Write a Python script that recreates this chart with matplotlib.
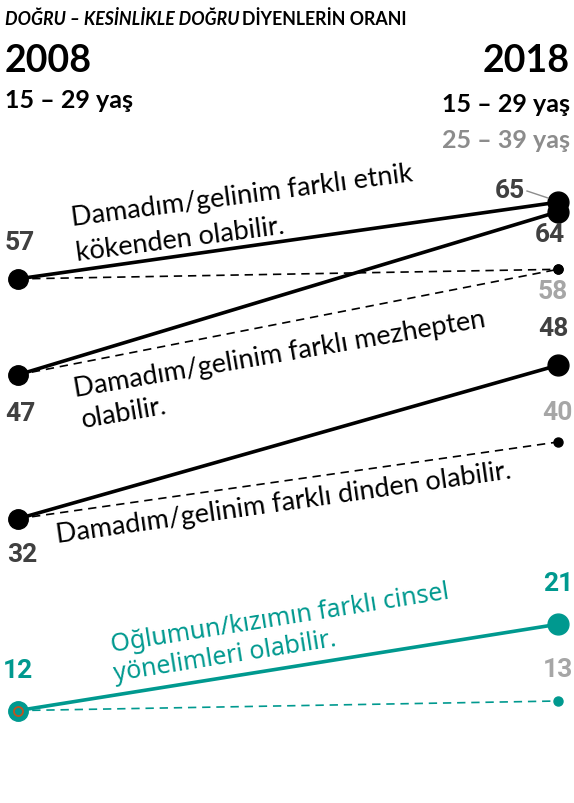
import matplotlib
matplotlib.use('Agg')
import matplotlib.pyplot as plt

# ---- data ----
questions = ['Damadım/gelinim farklı etnik\nkökenden olabilir.',
             'Damadım/gelinim farklı mezhepten\nolabilir.',
             'Damadım/gelinim farklı dinden olabilir.',
             'Oğlumun/kızımın farklı cinsel\nyönelimleri olabilir.']
v2008 = [57, 47, 32, 12]          # 2008, 15-29 yaş
v2018 = [65, 64, 48, 21]          # 2018, 15-29 yaş
v2018_old = [58, 58, 40, 13]      # 2018, 25-39 yaş
years = ['2008', '2018']

W, H = 574, 804
BLACK = '#000000'
TEAL = '#00998f'
DGRAY = '#404040'
LGRAY = '#a6a6a6'

# pixel -> data helpers (axes spans the whole figure)
X0, XS = 18, 540
Y0, YS = 826.7, 9.593


def px2d(px, py):
    return (px - X0) / XS, (Y0 - py) / YS


fig = plt.figure(figsize=(W / 100, H / 100), dpi=100)
ax = fig.add_axes([0, 0, 1, 1])
ax.set_xlim(px2d(0, 0)[0], px2d(W, 0)[0])
ax.set_ylim(px2d(0, H)[1], px2d(0, 0)[1])
ax.axis('off')

colors = [BLACK, BLACK, BLACK, TEAL]
for i in range(4):
    c = colors[i]
    ax.plot([0, 1], [v2008[i], v2018_old[i]], color=c, lw=1.2,
            dashes=(5, 3.5), zorder=2)
    ax.plot([0, 1], [v2008[i], v2018[i]], color=c, lw=2.6, zorder=3)
    ax.plot(0, v2008[i], 'o', color=c, ms=14, zorder=4)
    ax.plot(1, v2018[i], 'o', color=c, ms=15, zorder=4)
    ax.plot(1, v2018_old[i], 'o', color=c, ms=6.5, zorder=4)

# orange ring in teal dot
ax.plot(0, v2008[3], 'o', mfc='none', mec='#c0531f', ms=6.5, mew=1.3, zorder=5)

# value labels: (value, x, dx, dy, color)
labels = [
    (v2008[0], 0, 2, 37, DGRAY),
    (v2008[1], 0, 2, -38, DGRAY),
    (v2008[2], 0, 4, -35, DGRAY),
    (v2008[3], 0, 0, 41, TEAL),
    (v2018[0], 1, -48, 12, DGRAY),
    (v2018[1], 1, -8, -22, DGRAY),
    (v2018_old[0], 1, -5, -22, LGRAY),
    (v2018[2], 1, -5, 37, DGRAY),
    (v2018_old[2], 1, -1, 30, LGRAY),
    (v2018[3], 1, 0, 41, TEAL),
    (v2018_old[3], 1, 0, 32, LGRAY),
]
for val, x, dx, dy, c in labels:
    ax.annotate(str(val), (x, val), xytext=(dx, dy), textcoords='offset pixels',
                ha='center', va='center', fontsize=19, fontweight='bold',
                family='Roboto', color=c, zorder=6)

# little gray leader near 65
ax.plot([px2d(527, 0)[0], px2d(548, 0)[0]], [px2d(0, 192)[1], px2d(0, 199)[1]],
        color='#8c8c8c', lw=1.0, zorder=5)

# rotated question texts: (text, px, py, angle, color, font, size)
qlines = [
    ('Damadım/gelinim farklı etnik', 72, 226, 7.5, BLACK, 'Lato', 19.5),
    ('kökenden olabilir.', 77, 261, 7.5, BLACK, 'Lato', 19.5),
    ('Damadım/gelinim farklı mezhepten', 75, 397, 9.7, BLACK, 'Lato', 19.5),
    ('olabilir.', 83, 428, 9.7, BLACK, 'Lato', 19.5),
    ('Damadım/gelinim farklı dinden olabilir.', 57, 543, 8.1, BLACK, 'Lato', 19.5),
    ('Oğlumun/kızımın farklı cinsel', 112, 652, 9.0, TEAL, 'Noto Sans', 18),
    ('yönelimleri olabilir.', 115, 681, 9.0, TEAL, 'Noto Sans', 18),
]
for t, px, py, ang, c, fam, fs in qlines:
    x, y = px2d(px, py)
    ax.text(x, y, t, rotation=ang, rotation_mode='anchor', ha='left',
            va='baseline', fontsize=fs, color=c, family=fam, zorder=6)

# header
def fpos(px, py):
    return px / W, 1 - py / H

t1 = fig.text(*fpos(5, 19), 'DOĞRU – KESİNLİKLE DOĞRU', fontsize=12.8,
              fontweight='bold', style='italic', family='Lato', va='center')
fig.canvas.draw()
bb = t1.get_window_extent()
fig.text(bb.x1 / W + 0.004, fpos(0, 19)[1], 'DİYENLERİN ORANI', fontsize=12.8,
         fontweight='bold', family='Lato', va='center')

fig.text(*fpos(5, 61), years[0], fontsize=27, fontweight='bold', family='Lato', va='center')
fig.text(*fpos(570, 61), years[1], fontsize=27, fontweight='bold', family='Lato',
         va='center', ha='right')
fig.text(*fpos(5, 101), '15 – 29 yaş', fontsize=18, fontweight='bold', family='Lato', va='center')
fig.text(*fpos(570, 104), '15 – 29 yaş', fontsize=18, fontweight='bold', family='Lato',
         va='center', ha='right')
fig.text(*fpos(570, 140), '25 – 39 yaş', fontsize=18, fontweight='bold', family='Lato',
         va='center', ha='right', color='#8c8c8c')

fig.savefig('out.png', dpi=100)
